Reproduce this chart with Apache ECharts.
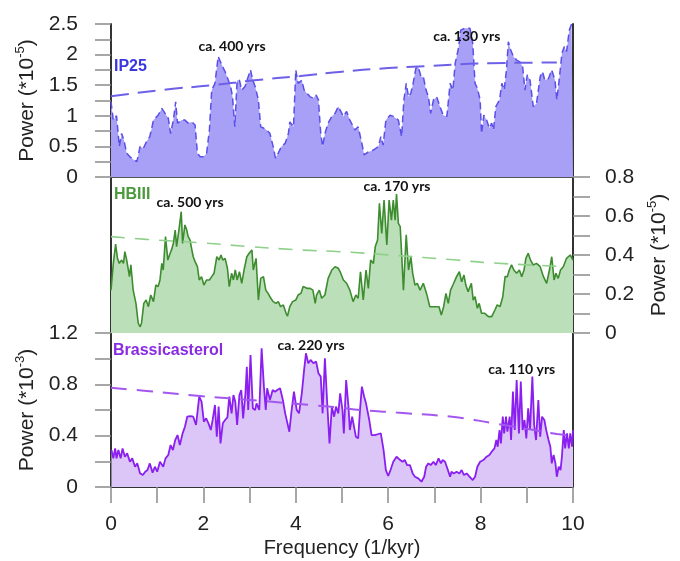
<!DOCTYPE html>
<html><head><meta charset="utf-8">
<script src="https://cdn.jsdelivr.net/npm/echarts@6/dist/echarts.min.js"></script>
<style>html,body{margin:0;padding:0;background:#fff}#c{width:680px;height:561px}</style>
</head><body><div id="c"></div>
<script>
// Frequency (1/kyr) vs power
const ip25 = [[0,1.23],[0.05,0.93],[0.12,1.0],[0.18,0.5],[0.23,0.71],[0.28,0.6],[0.34,0.39],[0.41,0.33],[0.49,0.28],[0.56,0.25],[0.59,0.22],[0.63,0.5],[0.70,0.47],[0.77,0.58],[0.84,0.66],[0.92,0.93],[0.95,0.96],[1.02,1.01],[1.10,1.12],[1.17,1.04],[1.24,0.96],[1.29,0.71],[1.35,0.93],[1.40,1.23],[1.44,0.88],[1.53,0.93],[1.60,0.93],[1.67,0.88],[1.75,0.9],[1.82,0.85],[1.87,0.39],[1.93,0.33],[2.00,0.33],[2.07,0.39],[2.13,0.77],[2.18,1.42],[2.25,1.53],[2.32,1.97],[2.37,1.88],[2.42,1.80],[2.47,1.72],[2.54,1.58],[2.59,1.48],[2.63,1.31],[2.68,0.82],[2.73,1.58],[2.78,1.58],[2.83,1.42],[2.90,1.48],[2.97,1.64],[3.02,1.75],[3.07,1.58],[3.12,1.48],[3.19,1.26],[3.24,0.82],[3.30,0.80],[3.37,0.77],[3.44,0.71],[3.51,0.50],[3.56,0.31],[3.62,0.39],[3.69,0.50],[3.77,0.55],[3.84,0.71],[3.87,0.90],[3.95,0.82],[4.00,1.75],[4.05,1.53],[4.13,1.58],[4.18,1.42],[4.24,1.37],[4.31,1.31],[4.38,1.29],[4.44,1.34],[4.49,1.26],[4.54,0.71],[4.58,0.50],[4.63,0.71],[4.70,0.88],[4.78,0.99],[4.85,1.04],[4.92,1.15],
[5.03,0.99],[5.10,1.07],[5.17,0.93],[5.28,0.77],[5.35,0.82],[5.43,0.55],[5.48,0.36],[5.57,0.41],[5.68,0.44],[5.79,0.50],[5.84,0.66],[5.89,0.52],[5.95,0.93],[6.04,1.01],[6.11,0.99],[6.22,0.93],[6.29,0.66],[6.34,1.26],[6.39,1.53],[6.44,1.31],[6.49,1.37],[6.54,1.53],[6.60,1.78],[6.65,1.80],[6.71,1.64],[6.76,1.64],[6.82,1.42],[6.87,1.31],[6.92,1.04],[6.98,1.26],[7.05,1.31],[7.12,1.15],[7.19,1.01],[7.27,0.99],[7.34,1.53],[7.40,1.42],[7.45,1.86],[7.52,2.10],[7.57,2.40],[7.66,2.43],[7.77,2.43],[7.83,2.18],[7.88,1.53],[7.93,1.45],[7.99,1.26],[8.02,0.71],[8.07,1.01],[8.13,0.93],[8.19,0.80],[8.24,0.88],[8.28,0.77],[8.33,1.15],[8.41,1.26],[8.46,1.53],[8.51,1.42],[8.56,1.75],[8.60,2.21],[8.65,2.08],[8.71,1.97],[8.78,1.91],[8.85,1.88],[8.91,1.80],[8.96,1.42],[9.01,1.67],[9.07,1.58],[9.14,1.15],[9.21,1.20],[9.29,1.64],[9.34,1.72],[9.39,1.58],[9.47,1.61],[9.54,1.75],[9.61,1.58],[9.65,1.26],[9.70,1.58],[9.76,2.02],[9.81,2.13],[9.86,2.05],[9.92,2.40],[9.97,2.50],[10,2.5]];
const hbiii = [[0,0.22],[0.05,0.357],[0.10,0.456],[0.14,0.383],[0.18,0.357],[0.23,0.374],[0.27,0.357],[0.30,0.417],[0.34,0.374],[0.40,0.289],[0.43,0.349],[0.48,0.22],[0.54,0.152],[0.59,0.05],[0.63,0.032],[0.66,0.05],[0.71,0.152],[0.76,0.169],[0.81,0.135],[0.86,0.195],[0.92,0.161],[0.97,0.246],[1.02,0.238],[1.06,0.272],[1.10,0.357],[1.13,0.323],[1.18,0.494],[1.23,0.374],[1.28,0.409],[1.31,0.426],[1.35,0.46],[1.39,0.528],[1.42,0.443],[1.47,0.528],[1.52,0.622],[1.55,0.46],[1.60,0.554],[1.64,0.528],[1.67,0.494],[1.71,0.477],[1.75,0.426],[1.78,0.391],[1.82,0.366],[1.87,0.34],[1.91,0.272],[1.96,0.289],[2.01,0.246],[2.07,0.272],[2.13,0.272],[2.18,0.289],[2.23,0.306],[2.29,0.391],[2.34,0.374],[2.38,0.4],[2.42,0.374],[2.47,0.383],[2.52,0.332],[2.56,0.238],[2.61,0.306],[2.65,0.272],[2.69,0.323],[2.73,0.272],[2.78,0.314],[2.83,0.255],[2.88,0.323],[2.94,0.391],[2.99,0.409],[3.05,0.426],[3.08,0.323],[3.14,0.383],[3.19,0.169],[3.24,0.28],[3.30,0.289],[3.35,0.22],[3.40,0.203],[3.46,0.178],[3.51,0.161],[3.57,0.152],[3.62,0.161],[3.67,0.135],[3.73,0.144],[3.79,0.101],[3.82,0.087],[3.87,0.135],[3.93,0.161],[4.00,0.169],[4.05,0.195],[4.11,0.203],[4.16,0.238],[4.24,0.229],[4.31,0.229],[4.37,0.22],[4.42,0.152],[4.45,0.195],[4.51,0.22],[4.56,0.178],[4.63,0.195],[4.70,0.28],[4.78,0.323],[4.85,0.34],[4.92,0.332],
[4.96,0.314],[5.03,0.272],[5.10,0.255],[5.17,0.22],[5.24,0.161],[5.30,0.195],[5.35,0.178],[5.40,0.314],[5.46,0.169],[5.52,0.323],[5.57,0.229],[5.62,0.374],[5.68,0.357],[5.72,0.443],[5.77,0.477],[5.81,0.665],[5.86,0.511],[5.91,0.682],[5.97,0.451],[6.02,0.682],[6.07,0.579],[6.11,0.682],[6.15,0.579],[6.18,0.713],[6.22,0.562],[6.26,0.545],[6.29,0.409],[6.33,0.22],[6.39,0.503],[6.44,0.323],[6.49,0.391],[6.53,0.306],[6.58,0.246],[6.63,0.255],[6.69,0.22],[6.76,0.255],[6.83,0.203],[6.90,0.135],[7.01,0.135],[7.10,0.135],[7.15,0.092],[7.20,0.135],[7.25,0.203],[7.30,0.152],[7.35,0.22],[7.40,0.246],[7.48,0.289],[7.54,0.314],[7.59,0.263],[7.64,0.297],[7.68,0.246],[7.73,0.212],[7.80,0.255],[7.84,0.169],[7.88,0.186],[7.93,0.127],[7.97,0.152],[8.02,0.101],[8.09,0.101],[8.17,0.084],[8.24,0.084],[8.31,0.118],[8.36,0.144],[8.42,0.135],[8.48,0.186],[8.53,0.289],[8.58,0.289],[8.62,0.323],[8.67,0.349],[8.72,0.323],[8.78,0.306],[8.84,0.323],[8.89,0.289],[8.94,0.323],[8.98,0.383],[9.03,0.409],[9.08,0.374],[9.14,0.349],[9.21,0.357],[9.29,0.34],[9.36,0.289],[9.43,0.255],[9.49,0.323],[9.54,0.391],[9.59,0.272],[9.63,0.306],[9.68,0.28],[9.73,0.323],[9.79,0.34],[9.86,0.383],[9.94,0.4],[10.0,0.374]];
const brass = [[0.01,0.288],[0.05,0.223],[0.09,0.301],[0.12,0.223],[0.16,0.288],[0.21,0.223],[0.25,0.301],[0.30,0.236],[0.35,0.262],[0.41,0.197],[0.46,0.223],[0.52,0.158],[0.57,0.184],[0.63,0.106],[0.69,0.094],[0.74,0.119],[0.79,0.132],[0.84,0.184],[0.90,0.112],[0.95,0.158],[1.00,0.119],[1.06,0.197],[1.13,0.158],[1.18,0.223],[1.24,0.249],[1.29,0.327],[1.34,0.288],[1.39,0.366],[1.44,0.405],[1.49,0.327],[1.55,0.418],[1.60,0.47],[1.65,0.548],[1.72,0.553],[1.78,0.548],[1.84,0.483],[1.91,0.704],[1.96,0.665],[2.01,0.509],[2.06,0.535],[2.11,0.496],[2.16,0.444],[2.20,0.522],[2.25,0.639],[2.29,0.392],[2.33,0.626],[2.37,0.34],[2.42,0.496],[2.47,0.522],[2.52,0.543],[2.56,0.704],[2.61,0.574],[2.65,0.717],[2.69,0.665],[2.73,0.483],[2.78,0.717],[2.82,0.756],[2.86,0.535],[2.91,0.73],[2.94,0.937],[2.97,0.6],[3.02,1.029],[3.07,0.613],[3.12,0.6],[3.15,0.652],[3.21,0.6],[3.26,1.081],[3.31,0.782],[3.35,0.6],[3.38,0.769],[3.44,0.678],[3.50,0.756],[3.55,0.743],[3.60,0.756],[3.66,0.769],[3.72,0.678],[3.77,0.574],[3.82,0.496],[3.86,0.431],[3.91,0.6],[3.96,0.743],[4.02,0.6],[4.07,0.574],[4.13,0.73],[4.18,0.912],[4.22,1.042],[4.27,0.964],[4.32,0.99],[4.38,0.964],[4.44,0.977],[4.49,0.886],[4.54,0.86],[4.58,0.574],[4.63,1.003],[4.68,0.652],[4.73,0.34],[4.78,0.626],[4.83,0.548],[4.87,0.626],[4.92,0.574],
[4.96,0.73],[5.01,0.6],[5.04,0.418],[5.09,0.834],[5.14,0.626],[5.17,0.444],[5.22,0.548],[5.26,0.47],[5.30,0.392],[5.35,0.379],[5.39,0.6],[5.43,0.782],[5.48,0.704],[5.52,0.652],[5.55,0.665],[5.59,0.522],[5.64,0.405],[5.71,0.405],[5.79,0.413],[5.84,0.418],[5.90,0.288],[5.95,0.132],[6.00,0.086],[6.05,0.132],[6.11,0.197],[6.18,0.236],[6.26,0.21],[6.31,0.197],[6.36,0.21],[6.41,0.171],[6.47,0.171],[6.53,0.106],[6.58,0.08],[6.65,0.067],[6.72,0.041],[6.78,0.08],[6.82,0.158],[6.87,0.184],[6.92,0.171],[6.98,0.197],[7.03,0.171],[7.09,0.223],[7.14,0.184],[7.18,0.21],[7.23,0.197],[7.28,0.145],[7.34,0.08],[7.37,0.119],[7.42,0.106],[7.48,0.119],[7.54,0.106],[7.59,0.132],[7.64,0.093],[7.70,0.106],[7.76,0.08],[7.83,0.054],[7.88,0.08],[7.93,0.158],[7.99,0.197],[8.06,0.21],[8.13,0.236],[8.19,0.249],[8.24,0.275],[8.30,0.301],[8.34,0.366],[8.37,0.314],[8.41,0.444],[8.44,0.34],[8.48,0.548],[8.51,0.418],[8.55,0.548],[8.58,0.431],[8.63,0.548],[8.66,0.366],[8.70,0.743],[8.74,0.444],[8.78,0.834],[8.83,0.418],[8.87,0.821],[8.91,0.444],[8.95,0.522],[8.99,0.379],[9.03,0.613],[9.07,0.444],[9.12,0.86],[9.16,0.483],[9.20,0.366],[9.25,0.678],[9.29,0.392],[9.33,0.548],[9.38,0.522],[9.42,0.444],[9.47,0.366],[9.51,0.314],[9.54,0.184],[9.58,0.249],[9.62,0.184],[9.65,0.08],[9.69,0.158],[9.73,0.132],[9.76,0.236],[9.80,0.444],[9.83,0.301],[9.87,0.418],[9.91,0.301],[9.94,0.418],[9.98,0.314],[10.0,0.444]];
const ip25Trend = [[0,1.32],[1.2,1.43],[2.2,1.50],[3.1,1.58],[4.1,1.65],[5.0,1.72],[6.0,1.78],[6.8,1.81],[8.2,1.86],[9.65,1.87]];
const hbiiiTrend = [[0,0.494],[0.77,0.48],[1.93,0.463],[3.01,0.443],[4.09,0.426],[4.96,0.417],[6.04,0.40],[7.48,0.374],[8.2,0.36],[9.7,0.342]];
const brassTrend = [[0,0.774],[0.77,0.748],[1.93,0.709],[3.01,0.678],[4.31,0.639],[4.92,0.621],[5.39,0.60],[6.18,0.58],[7.48,0.543],[8.28,0.496],[8.93,0.457],[9.65,0.413],[10,0.40]];
const annotations = [
  {panel:0, text:'ca. 400 yrs', at:[2.62,2.14]},
  {panel:0, text:'ca. 130 yrs', at:[7.7,2.30]},
  {panel:1, text:'ca. 500 yrs', at:[1.71,0.67]},
  {panel:1, text:'ca. 170 yrs', at:[6.19,0.75]},
  {panel:2, text:'ca. 220 yrs', at:[4.33,1.10]},
  {panel:2, text:'ca. 110 yrs', at:[8.89,0.917]}
];
const seriesNames = ['IP25','HBIII','Brassicasterol'];
const xTickLabels = [0,2,4,6,8,10];

const FONT = 'Liberation Sans';
const TXT = '#222';
const tickStyle = {color:'#8a8a8a', width:1.5};
const axisDark = {color:'#333', width:2};

function nameRich(exp){
  return {
    text: '{a|Power (*10}{s|' + exp + '}{a|)}',
    style: {rich:{
      a:{fontSize:21, fontFamily:FONT, color:TXT, lineHeight:27},
      s:{fontSize:13, fontFamily:FONT, color:TXT, lineHeight:15, verticalAlign:'top'}
    }}
  };
}
const n5 = nameRich('-5'), n3 = nameRich('-3');

function marks(panel){
  return {
    symbol:'circle', symbolSize:0, silent:true,
    label:{show:true, position:'inside', fontFamily:'Lato', fontWeight:'bold', fontSize:14, color:'#111', formatter:p=>p.name},
    data: annotations.filter(a=>a.panel===panel).map(a=>({name:a.text, coord:a.at}))
  };
}

const option = {
  animation:false,
  backgroundColor:'#fff',
  title: [
    {text:seriesNames[0], left:114, top:59, padding:0, textStyle:{color:'#3a36e0', fontSize:16, fontWeight:'bold', fontFamily:FONT}},
    {text:seriesNames[1], left:114, top:187, padding:0, textStyle:{color:'#4b9a3c', fontSize:16, fontWeight:'bold', fontFamily:FONT}},
    {text:seriesNames[2], left:113, top:343, padding:0, textStyle:{color:'#8a2be2', fontSize:16, fontWeight:'bold', fontFamily:FONT}}
  ],
  grid: [
    {left:111, right:107, top:24, height:153},
    {left:111, right:107, top:177, height:156},
    {left:111, right:107, top:333, height:154}
  ],
  xAxis: [
    {gridIndex:0, type:'value', min:0, max:10, position:'top', axisLine:{show:true, lineStyle:{color:'#555', width:2}}, axisTick:{show:false}, axisLabel:{show:false}, splitLine:{show:false}},
    {gridIndex:1, type:'value', min:0, max:10, show:false},
    {gridIndex:2, type:'value', min:0, max:10, interval:1,
      axisLine:{show:true, lineStyle:axisDark}, axisTick:{show:true, length:16, lineStyle:tickStyle},
      axisLabel:{margin:27, fontSize:21, color:TXT, fontFamily:FONT, formatter:v=> xTickLabels.indexOf(v)>=0 ? String(v) : ''},
      splitLine:{show:false},
      name:'Frequency (1/kyr)', nameLocation:'middle', nameGap:51, nameTextStyle:{fontSize:20, color:TXT, fontFamily:FONT}}
  ],
  yAxis: [
    {gridIndex:0, type:'value', min:0, max:2.5, interval:0.25, position:'left',
      axisLine:{show:true, lineStyle:axisDark}, axisTick:{show:true, length:16, lineStyle:tickStyle},
      axisLabel:{margin:33, fontSize:21, color:TXT, fontFamily:FONT, formatter:v=> Math.round(v*100)%50===0 ? String(+v.toFixed(2)) : ''},
      splitLine:{show:false},
      name:n5.text, nameLocation:'middle', nameRotate:90, nameGap:70, nameTextStyle:n5.style},
    {gridIndex:0, type:'value', min:0, max:2.5, position:'right', axisLine:{show:true, lineStyle:axisDark}, axisTick:{show:false}, axisLabel:{show:false}, splitLine:{show:false}},
    {gridIndex:1, type:'value', min:0, max:0.8, position:'left', axisLine:{show:true, lineStyle:axisDark}, axisTick:{show:false}, axisLabel:{show:false}, splitLine:{show:false}},
    {gridIndex:1, type:'value', min:0, max:0.8, interval:0.1, position:'right',
      axisLine:{show:true, lineStyle:axisDark}, axisTick:{show:true, length:17, lineStyle:tickStyle},
      axisLabel:{margin:32, fontSize:21, color:TXT, fontFamily:FONT, formatter:v=> Math.round(v*10)%2===0 ? String(+v.toFixed(1)) : ''},
      splitLine:{show:false},
      name:n5.text, nameLocation:'middle', nameRotate:90, nameGap:73, nameTextStyle:n5.style},
    {gridIndex:2, type:'value', min:0, max:1.2, interval:0.2, position:'left',
      axisLine:{show:true, lineStyle:axisDark}, axisTick:{show:true, length:16, lineStyle:tickStyle},
      axisLabel:{margin:33, fontSize:21, color:TXT, fontFamily:FONT, formatter:v=> Math.round(v*10)%4===0 ? String(+v.toFixed(1)) : ''},
      splitLine:{show:false},
      name:n3.text, nameLocation:'middle', nameRotate:90, nameGap:70, nameTextStyle:n3.style},
    {gridIndex:2, type:'value', min:0, max:1.2, position:'right', axisLine:{show:true, lineStyle:axisDark}, axisTick:{show:false}, axisLabel:{show:false}, splitLine:{show:false}}
  ],
  series: [
    {type:'line', xAxisIndex:0, yAxisIndex:0, data:ip25, symbol:'none', z:2,
      lineStyle:{color:'#5a4fe8', width:1.5, type:[7,4]}, areaStyle:{color:'#a8a0f6', opacity:1}, markPoint:marks(0)},
    {type:'line', xAxisIndex:0, yAxisIndex:0, data:ip25Trend, symbol:'none', smooth:true, z:3,
      lineStyle:{color:'#6d60e8', width:2, type:[18,9]}},
    {type:'line', xAxisIndex:1, yAxisIndex:3, data:hbiii, symbol:'none', z:2,
      lineStyle:{color:'#3d8c2f', width:1.6}, areaStyle:{color:'#bbdfb8', opacity:1}, markPoint:marks(1)},
    {type:'line', xAxisIndex:1, yAxisIndex:3, data:hbiiiTrend, symbol:'none', smooth:true, z:3,
      lineStyle:{color:'#8fd08b', width:1.6, type:[14,10]}},
    {type:'line', xAxisIndex:2, yAxisIndex:4, data:brass, symbol:'none', z:2,
      lineStyle:{color:'#8a1ff0', width:1.8}, areaStyle:{color:'#dcc6f7', opacity:1}, markPoint:marks(2)},
    {type:'line', xAxisIndex:2, yAxisIndex:4, data:brassTrend, symbol:'none', smooth:true, z:3,
      lineStyle:{color:'#a457ef', width:2, type:[16,10]}}
  ]
};
const chart = echarts.init(document.getElementById('c'), null, {renderer:'canvas'});
chart.setOption(option);
</script>
</body></html>
